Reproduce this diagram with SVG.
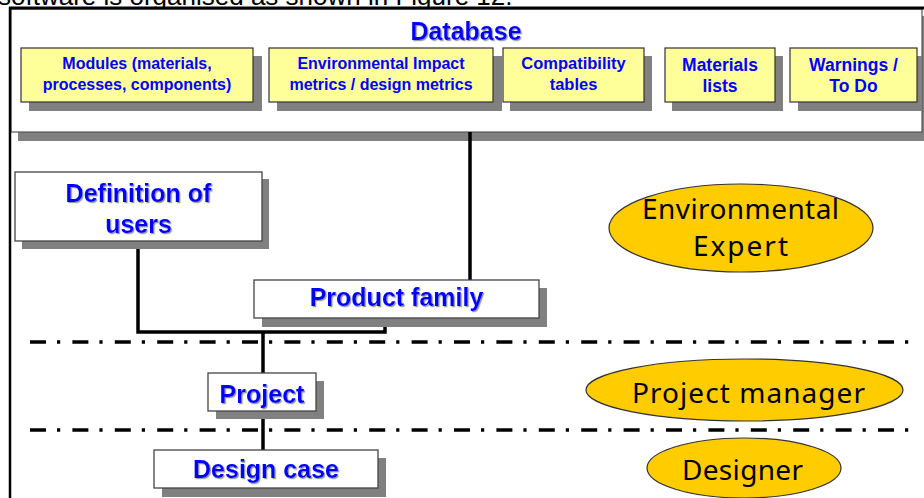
<svg xmlns="http://www.w3.org/2000/svg" width="924" height="498" viewBox="0 0 924 498">
<defs>
<filter id="ts" x="-10%" y="-20%" width="120%" height="150%">
<feDropShadow dx="1.2" dy="1.2" stdDeviation="0.4" flood-color="#909090" flood-opacity="0.9"/>
</filter>
<style>
.shadow{fill:#808080}
.ybox{fill:#FFFF99;stroke:#333;stroke-width:1.2}
.wbox{fill:#fff;stroke:#444;stroke-width:1.3}
.ytxt{font-family:"Liberation Sans",Arial,sans-serif;font-weight:bold;fill:#0000FF;text-anchor:middle}
.btxt{font-family:"Liberation Sans",Arial,sans-serif;font-weight:bold;fill:#0000FF;text-anchor:middle;font-size:25px}
.ell{fill:#FFCC00;stroke:#333;stroke-width:1.2}
.etxt{font-family:"Comic Sans MS","Noto Sans",sans-serif;font-size:28px;fill:#000;text-anchor:middle}
.conn{stroke:#000;stroke-width:3.5;fill:none}
.dash{stroke:#000;stroke-width:3.5;stroke-dasharray:16 11 3.2 12.2}
</style>
</defs>
<rect width="924" height="498" fill="#fff"/>
<text x="-2" y="5" font-family="Liberation Sans,Arial,sans-serif" font-size="26" fill="#000">software is organised as shown in Figure 12.</text>

<g id="database">
<rect class="shadow" x="18" y="16" width="908" height="125"/>
<rect x="11" y="9" width="911" height="123" fill="#fff" stroke="#555" stroke-width="1.2"/>
<text class="btxt" x="466" y="40" filter="url(#ts)">Database</text>
</g>

<g id="frame">
<line x1="9" y1="8" x2="924" y2="8" stroke="#000" stroke-width="3"/>
<line x1="10" y1="7" x2="10" y2="498" stroke="#000" stroke-width="2.5"/>
</g>

<g id="modules">
<rect class="shadow" x="29" y="56" width="233" height="55"/>
<rect class="ybox" x="21" y="48" width="232" height="54"/>
<text class="ytxt" x="137" y="69" font-size="16">Modules (materials,</text>
<text class="ytxt" x="137" y="90" font-size="16">processes, components)</text>
</g>

<g id="env-impact">
<rect class="shadow" x="277" y="56" width="225" height="55"/>
<rect class="ybox" x="269" y="48" width="224" height="54"/>
<text class="ytxt" x="381" y="69" font-size="16">Environmental Impact</text>
<text class="ytxt" x="381" y="90" font-size="16">metrics / design metrics</text>
</g>

<g id="compatibility">
<rect class="shadow" x="510" y="56" width="142" height="55"/>
<rect class="ybox" x="503" y="48" width="141" height="54"/>
<text class="ytxt" x="573.5" y="69" font-size="16.5">Compatibility</text>
<text class="ytxt" x="573.5" y="90" font-size="16.5">tables</text>
</g>

<g id="materials">
<rect class="shadow" x="672" y="56" width="111" height="55"/>
<rect class="ybox" x="665" y="48" width="110" height="54"/>
<text class="ytxt" x="720" y="71" font-size="17.5">Materials</text>
<text class="ytxt" x="720" y="92" font-size="17.5">lists</text>
</g>

<g id="warnings">
<rect class="shadow" x="798" y="56" width="124" height="55"/>
<rect class="ybox" x="790" y="48" width="127" height="54"/>
<text class="ytxt" x="853.5" y="71" font-size="17.5">Warnings /</text>
<text class="ytxt" x="853.5" y="92" font-size="17.5">To Do</text>
</g>

<g id="connectors">
<line class="conn" x1="470" y1="132" x2="470" y2="280"/>
<polyline class="conn" points="138,241 138,332 385,332 385,318"/>
<line class="conn" x1="263" y1="332" x2="263" y2="373"/>
<line class="conn" x1="263" y1="411" x2="263" y2="450"/>
</g>

<g id="separators">
<line class="dash" x1="30" y1="342" x2="916" y2="342"/>
<line class="dash" x1="30" y1="430" x2="916" y2="430"/>
</g>

<g id="definition-of-users">
<rect class="shadow" x="22" y="179" width="247" height="70"/>
<rect class="wbox" x="15" y="172" width="247" height="69"/>
<text class="btxt" x="138.5" y="202" filter="url(#ts)">Definition of</text>
<text class="btxt" x="138.5" y="233" filter="url(#ts)">users</text>
</g>

<g id="product-family">
<rect class="shadow" x="262" y="288" width="285" height="39"/>
<rect class="wbox" x="254" y="280" width="285" height="38"/>
<text class="btxt" x="396.5" y="306" filter="url(#ts)">Product family</text>
</g>

<g id="project">
<rect class="shadow" x="216" y="381" width="108" height="38"/>
<rect class="wbox" x="208" y="373" width="108" height="38"/>
<text class="btxt" x="262" y="403" filter="url(#ts)">Project</text>
</g>

<g id="design-case">
<rect class="shadow" x="162" y="458" width="224" height="39"/>
<rect class="wbox" x="154" y="450" width="224" height="38"/>
<text class="btxt" x="266" y="478" filter="url(#ts)">Design case</text>
</g>

<g id="environmental-expert">
<ellipse class="ell" cx="741" cy="228" rx="132" ry="44"/>
<text class="etxt" x="740.5" y="219" textLength="197">Environmental</text>
<text class="etxt" x="740.5" y="256" textLength="95">Expert</text>
</g>

<g id="project-manager">
<ellipse class="ell" cx="744.5" cy="390" rx="158.5" ry="31"/>
<text class="etxt" x="748.5" y="403" textLength="233">Project manager</text>
</g>

<g id="designer">
<ellipse class="ell" cx="744" cy="468" rx="97" ry="30"/>
<text class="etxt" x="742.5" y="480" textLength="121">Designer</text>
</g>
</svg>
